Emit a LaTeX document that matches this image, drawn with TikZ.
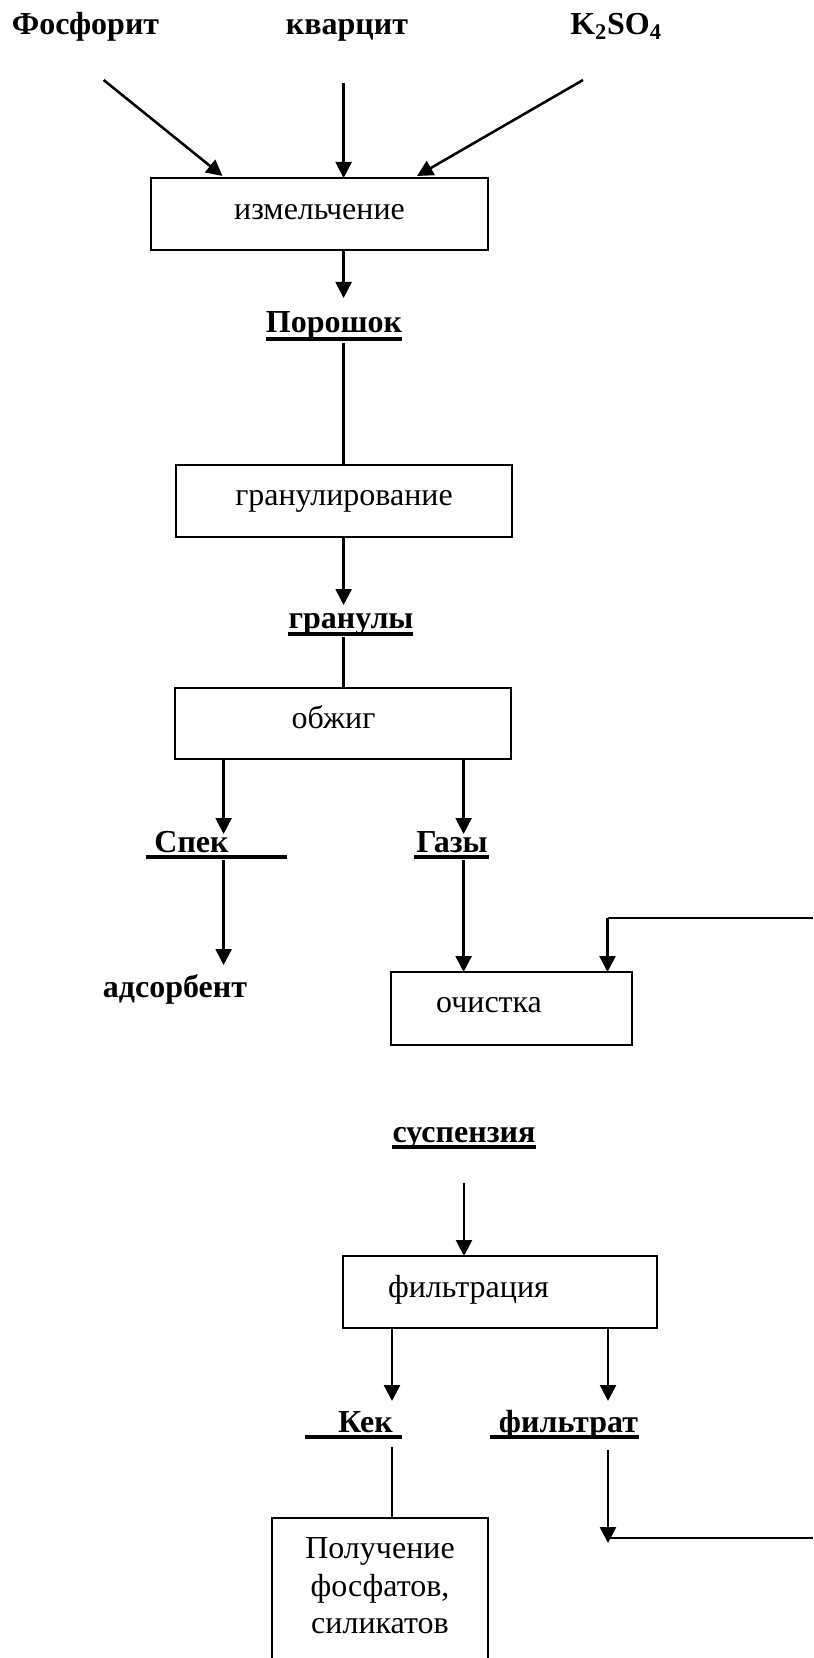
\documentclass[tikz,border=0pt]{standalone}
\usepackage{fontspec}
\setmainfont{Liberation Serif}
\usetikzlibrary{arrows.meta}
\begin{document}
\begin{tikzpicture}[x=0.75pt,y=-0.75pt,
  every node/.style={inner sep=0pt, outer sep=0pt},
  txt/.style={anchor=base, font=\fontsize{24}{28}\selectfont},
  lab/.style={anchor=base, font=\fontsize{24}{28}\selectfont\bfseries},
  box/.style={draw, line width=1.5pt, minimum height=54pt},
  flow/.style={line width=1.9pt, -{Triangle[length=12pt,width=12pt]}},
  plainline/.style={line width=1.9pt},
  uline/.style={line width=2.8pt}]
\useasboundingbox (0,0) rectangle (813,1658);
\clip (0,0) rectangle (813,1658);
\fill[white] (0,0) rectangle (813,1658);

% source labels
\node[lab] (phos) at (85.5,35) {Фосфорит};
\node[lab] (quartz) at (347,35) {кварцит};
\node[lab] (ksulf) at (616,35) {K\textsubscript{2}SO\textsubscript{4}};

% boxes
\node[box, minimum width=252.75pt] (b1) at (319.5,214) {};
\node[txt] (t1) at (319.5,220) {измельчение};
\node[box, minimum width=252pt] (b2) at (344,501) {};
\node[txt] (t2) at (344,505) {гранулирование};
\node[box, minimum width=252pt, minimum height=53.25pt] (b3) at (343,723.5) {};
\node[txt] (t3) at (333.5,728) {обжиг};
\node[box, minimum width=180.75pt, minimum height=54.75pt] (b4) at (511.5,1008.5) {};
\node[txt] (t4) at (489,1012) {очистка};
\node[box, minimum width=235.5pt] (b5) at (500,1292) {};
\node[txt] (t5) at (468.5,1297) {фильтрация};
\node[draw, line width=1.5pt, minimum width=162.4pt, minimum height=150pt, anchor=north] (b6) at (380,1518) {};
\node[txt] (p1) at (380,1558) {Получение};
\node[txt] (p2) at (380,1596) {фосфатов,};
\node[txt] (p3) at (380,1633) {силикатов};

% intermediate labels
\node[lab] (powder) at (334,333) {Порошок};
\draw[uline] (266,339) -- (402,339);
\node[lab] (gran) at (351,628) {гранулы};
\draw[uline] (288,634) -- (413,634);
\node[lab] (spek) at (191.5,852) {Спек};
\draw[uline] (145.5,857) -- (287,857);
\node[lab] (gas) at (452,852) {Газы};
\draw[uline] (414,857) -- (489,857);
\node[lab] (ads) at (175,997) {адсорбент};
\node[lab] (susp) at (464,1142) {суспензия};
\draw[uline] (392,1147) -- (535.5,1147);
\node[lab] (kek) at (365.5,1432) {Кек};
\draw[uline] (305,1437) -- (401.5,1437);
\node[lab] (filt) at (568.5,1432) {фильтрат};
\draw[uline] (490,1437) -- (639,1437);

% free ends
\coordinate (s1) at (103.6,80);
\coordinate (e1) at (222.5,176);
\coordinate (s2) at (343.6,83);
\coordinate (s3) at (583,80);
\coordinate (e3) at (417,176);
\coordinate (c4) at (343.6,298);
\coordinate (c5a) at (343.6,343);
\coordinate (c6) at (343.6,605);
\coordinate (c7a) at (343.6,637);
\coordinate (l1) at (223.6,834);
\coordinate (r1) at (463.6,834);
\coordinate (l2) at (223.6,860);
\coordinate (l3) at (223.6,965);
\coordinate (r2) at (463.6,860);
\coordinate (fbTop) at (813,918);
\coordinate (fbCorner) at (607.5,918);
\coordinate (su) at (464,1183);
\coordinate (kl) at (392,1401);
\coordinate (fr) at (608,1401);
\coordinate (kl2) at (392,1447);
\coordinate (fr2) at (608,1450);
\coordinate (fr3) at (608,1543);
\coordinate (fbBot) at (608,1538);
\coordinate (fbBotR) at (813,1538);

% connectors
\draw[flow] (s1) -- (e1);
\draw[flow] (s2) -- (s2 |- b1.north);
\draw[flow] (s3) -- (e3);
\draw[flow] (b1.south -| c4) -- (c4);
\draw[plainline] (c5a) -- (c5a |- b2.north);
\draw[flow] (b2.south -| c6) -- (c6);
\draw[plainline] (c7a) -- (c7a |- b3.north);
\draw[flow] (b3.south -| l1) -- (l1);
\draw[flow] (b3.south -| r1) -- (r1);
\draw[flow] (l2) -- (l3);
\draw[flow] (r2) -- (r2 |- b4.north);
\draw[plainline] (fbTop) -- (fbCorner);
\draw[flow] (fbCorner) -- (fbCorner |- b4.north);
\draw[flow] (su) -- (su |- b5.north);
\draw[flow] (b5.south -| kl) -- (kl);
\draw[flow] (b5.south -| fr) -- (fr);
\draw[plainline] (kl2) -- (kl2 |- b6.north);
\draw[flow] (fr2) -- (fr3);
\draw[plainline] (fbBot) -- (fbBotR);
\end{tikzpicture}
\end{document}
